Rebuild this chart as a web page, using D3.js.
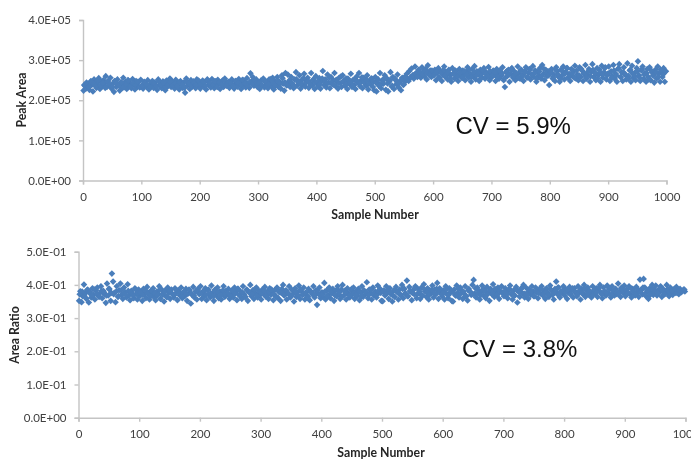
<!DOCTYPE html>
<html>
<head>
<meta charset="utf-8">
<script src="https://cdn.jsdelivr.net/npm/d3@7"></script>
<style>
html, body { margin: 0; padding: 0; background: #fff; overflow: hidden; }
svg { display: block; filter: blur(0.35px); }
.axis path, .axis line { stroke: #c4c4c4; stroke-width: 1.4px; fill: none; }
.axis text { font-family: Lato, sans-serif; font-size: 11.5px; fill: #404040; }
.title { font-family: Lato, sans-serif; font-size: 12.3px; font-weight: bold; fill: #262626; }
.note { font-family: "Liberation Sans", sans-serif; font-size: 24px; fill: #111; }
</style>
</head>
<body>
<svg width="691" height="459"></svg>
<script>
var xTicks = [0, 100, 200, 300, 400, 500, 600, 700, 800, 900, 1000];

var peakTicks = [0, 100, 200, 300, 400];
var peakTickLabels = ["0.0E+00", "1.0E+05", "2.0E+05", "3.0E+05", "4.0E+05"];
var ratioTicks = [0, 100, 200, 300, 400, 500];
var ratioTickLabels = ["0.0E+00", "1.0E-01", "2.0E-01", "3.0E-01", "4.0E-01", "5.0E-01"];

// every second sample, each row below is 50 samples
var samples = d3.range(1, 1001, 2);
// extra readings inside the thick part of the band, each row is 100 samples
var coreSamples = d3.range(2, 1002, 4);

// peak area, in thousands
var peakArea = [
  224,236,229,241,233,226,247,238,222,252,244,231,239,255,228,246,235,250,242,260,233,248,237,256,229,
  241,221,247,233,252,238,224,244,231,256,240,246,228,250,236,243,230,253,239,227,248,234,245,232,251,
  237,229,246,242,233,250,227,240,235,248,231,244,238,226,252,236,243,230,247,239,225,249,234,241,254,
  233,246,240,229,251,236,243,227,248,238,231,245,219,254,237,242,228,250,234,247,240,230,252,236,244,
  229,241,249,235,246,227,252,238,243,232,253,240,230,247,236,251,244,228,239,249,233,254,242,237,246,
  231,245,252,238,229,248,241,234,253,243,228,250,236,246,232,255,240,231,267,247,258,236,244,252,233,
  241,228,249,237,254,232,245,240,230,252,243,235,256,227,248,238,258,233,246,229,262,241,224,268,237,
  264,246,233,258,240,230,252,270,236,244,262,229,250,238,266,234,248,256,231,243,268,237,252,228,260,
  242,234,255,229,248,273,238,252,232,264,244,230,258,240,250,268,235,246,229,256,242,233,262,248,236,
  254,228,246,240,266,233,251,238,228,259,244,268,235,250,230,256,242,236,262,227,248,240,254,233,225,
  258,222,244,236,268,230,250,241,262,226,254,222,246,270,234,258,228,252,240,264,232,248,225,256,238,
  258,248,266,252,272,256,279,262,254,284,268,258,276,264,256,282,270,260,278,252,287,266,274,258,270,
  262,276,250,268,280,256,272,248,264,284,258,270,252,276,262,246,280,266,254,272,260,248,278,268,256,
  274,262,250,270,282,256,266,246,278,260,285,252,272,264,248,276,258,268,280,254,270,262,283,250,266,
  258,274,264,248,278,268,254,272,262,282,250,233,270,260,276,246,266,280,256,272,250,262,284,268,254,
  276,262,248,272,282,256,268,278,252,264,285,258,274,246,270,262,280,254,288,266,250,276,260,272,238,
  268,278,254,264,248,282,272,258,246,276,262,284,252,270,280,256,266,248,278,260,272,286,254,264,250,
  282,258,274,248,268,288,254,264,278,246,272,290,258,268,250,280,262,276,246,286,256,270,282,252,266,
  284,248,272,260,288,254,266,246,278,290,258,270,248,282,264,252,292,260,274,246,286,256,268,250,280,
  297,262,248,274,284,254,268,246,278,258,282,250,270,262,244,276,254,284,266,246,272,258,280,246,272
];

var peakAreaCore = [
  238,244,233,247,241,235,250,237,243,231,246,239,234,248,242,236,245,232,240,249,235,243,238,246,233,
  236,243,239,233,246,241,235,248,238,244,232,240,247,237,242,234,245,239,231,246,241,236,243,238,249,
  240,246,236,249,243,238,247,233,244,240,250,236,245,241,234,248,243,238,251,242,236,246,240,248,244,
  244,238,250,246,240,253,243,236,248,241,255,245,238,250,243,236,252,246,240,255,243,248,238,250,244,
  246,240,254,248,242,257,245,238,251,243,259,247,240,254,245,238,252,248,242,257,245,250,241,254,247,
  244,252,238,248,256,242,250,236,254,246,243,250,240,256,248,258,262,266,260,270,264,272,268,262,274,
  264,272,258,268,276,262,270,254,266,274,260,268,256,272,264,276,258,270,262,268,254,274,266,260,272,
  262,270,258,274,266,254,272,264,278,260,268,256,274,262,270,258,276,264,268,254,272,260,278,266,262,
  270,258,276,264,254,272,266,280,260,268,256,274,262,278,266,258,272,260,276,268,254,270,264,280,262,
  268,256,274,262,280,258,270,264,254,276,266,260,272,256,278,264,268,252,274,262,270,258,276,264,272
];

// area ratio, in thousandths
var areaRatio = [
  352,381,348,366,401,374,358,386,347,379,362,390,370,356,384,392,366,375,396,360,382,372,346,404,368,
  388,352,434,410,376,348,396,364,384,404,370,358,392,378,362,402,368,354,382,374,360,390,372,356,386,
  366,378,352,388,372,360,394,376,356,382,368,390,362,354,380,374,396,358,386,370,350,384,364,392,376,
  358,386,372,362,390,376,354,382,368,392,360,378,366,388,352,374,384,344,370,394,362,380,356,388,372,
  396,358,378,366,390,354,384,370,362,398,376,352,386,368,392,360,380,356,374,396,364,382,372,388,358,
  370,384,362,392,376,354,388,368,380,358,396,372,364,386,352,378,400,366,384,358,374,392,362,382,370,
  356,386,372,394,364,380,358,390,370,376,354,384,366,392,360,378,352,388,400,368,382,356,374,396,362,
  386,372,350,390,364,378,398,358,382,370,392,356,376,366,388,354,380,372,396,362,384,340,374,392,360,
  378,364,406,356,384,370,392,360,376,388,352,382,366,396,372,358,386,400,368,380,356,390,374,362,384,
  370,392,358,380,366,388,354,376,396,364,382,372,408,360,386,374,356,392,368,380,362,398,376,388,352,
  351,384,368,396,376,358,390,372,350,382,364,394,378,356,386,370,400,360,388,374,413,366,394,380,354,
  384,372,396,360,388,376,358,392,368,402,380,364,390,356,384,374,398,362,386,372,406,358,390,378,366,
  384,356,396,372,360,390,378,352,350,386,368,398,376,362,392,384,358,374,396,366,353,388,380,370,400,
  415,374,362,392,384,356,378,398,368,386,360,394,376,352,388,372,402,364,382,370,392,358,380,396,374,
  366,390,378,360,386,398,372,356,384,368,394,347,380,364,388,374,400,362,392,376,358,384,370,396,380,
  366,392,378,360,386,374,396,368,382,358,390,376,364,398,384,370,356,388,410,372,392,362,380,374,396,
  368,386,358,378,394,372,384,362,390,376,366,396,380,356,388,372,400,364,384,392,370,378,362,396,382,
  372,390,364,384,400,376,360,392,380,368,398,374,386,362,396,378,368,388,372,404,380,364,392,376,398,
  366,386,376,396,372,362,388,380,368,394,378,364,416,384,372,418,392,366,382,358,390,376,400,370,386,
  398,368,384,376,396,364,388,372,380,400,374,366,392,382,370,386,376,394,380,372,388,378,382,386,380
];

var areaRatioCore = [
  372,380,366,384,376,370,386,374,364,382,378,368,388,376,372,380,366,384,374,370,382,378,368,386,376,
  378,370,384,374,366,380,376,368,386,372,378,364,382,374,370,384,376,366,380,372,386,374,368,382,378,
  376,382,370,386,374,366,380,378,368,384,372,376,366,382,374,388,370,378,364,384,376,372,386,368,380,
  374,382,368,378,386,372,364,380,376,370,384,374,366,382,378,368,386,372,376,364,380,374,370,384,368,
  372,380,366,384,376,370,386,378,364,382,374,368,388,376,372,380,366,384,378,370,386,374,368,382,376,
  380,372,386,376,368,384,378,370,388,374,366,382,376,390,372,380,368,386,378,370,384,374,388,380,372,
  378,386,370,382,376,368,388,374,380,366,384,378,372,390,376,368,386,380,372,384,374,388,370,382,378,
  380,372,388,376,368,384,378,390,374,370,386,380,366,382,376,388,372,378,370,386,374,382,392,376,384,
  378,386,372,390,380,370,384,376,388,374,382,368,386,378,392,372,380,376,388,370,384,378,374,390,382,
  384,376,390,380,372,386,378,392,374,382,370,388,380,376,390,384,372,386,378,382,388,376,384,380,386
];

var blue = "#4a7ebb";

var svg = d3.select("svg");

function drawPoints(g, values, xs, x, y) {
  var diamond = d3.symbol().type(d3.symbolDiamond2).size(28);

  g.selectAll("path.p" + xs.length)
    .data(values)
    .enter()
    .append("path")
    .attr("class", "p" + xs.length)
    .attr("d", diamond)
    .attr("fill", blue)
    .attr("transform", function(d, i) {
      return "translate(" + x(xs[i]) + "," + y(d) + ")";
    });
}

function drawPanel(opts) {
  var x = d3.scaleLinear().domain([0, 1000]).range([opts.left, opts.right]);
  var y = d3.scaleLinear().domain([0, opts.yMax]).range([opts.bottom, opts.top]);

  var g = svg.append("g");

  g.append("g")
    .attr("class", "axis")
    .attr("transform", "translate(0," + opts.bottom + ")")
    .call(d3.axisBottom(x).tickValues(xTicks).tickSize(4).tickSizeOuter(4).tickFormat(d3.format("d")))
    .selectAll("text").attr("dy", "1.2em");

  g.append("g")
    .attr("class", "axis")
    .attr("transform", "translate(" + opts.left + ",0)")
    .call(d3.axisLeft(y).tickValues(opts.yTicks).tickSize(4).tickSizeOuter(4)
      .tickFormat(function(d, i) { return opts.yLabels[i]; }))
    .selectAll("text").attr("x", -12);

  drawPoints(g, opts.values, samples, x, y);
  drawPoints(g, opts.core, coreSamples, x, y);

  g.append("text")
    .attr("class", "title")
    .attr("text-anchor", "middle")
    .attr("x", opts.xTitleX)
    .attr("y", opts.xTitleY)
    .text("Sample Number");

  g.append("text")
    .attr("class", "title")
    .attr("text-anchor", "middle")
    .attr("transform", "translate(" + opts.yTitleX + "," + opts.yTitleY + ") rotate(-90)")
    .text(opts.yTitle);

  g.append("text")
    .attr("class", "note")
    .attr("x", opts.noteX)
    .attr("y", opts.noteY)
    .text(opts.note);
}

drawPanel({
  left: 83, right: 666.5, top: 20, bottom: 180.5,
  yMax: 400, yTicks: peakTicks, yLabels: peakTickLabels, values: peakArea, core: peakAreaCore,
  xTitleX: 375, xTitleY: 219, yTitle: "Peak Area", yTitleX: 26, yTitleY: 100,
  note: "CV = 5.9%", noteX: 455.5, noteY: 134
});

drawPanel({
  left: 78.5, right: 685.5, top: 251.7, bottom: 417.7,
  yMax: 500, yTicks: ratioTicks, yLabels: ratioTickLabels, values: areaRatio, core: areaRatioCore,
  xTitleX: 381, xTitleY: 457, yTitle: "Area Ratio", yTitleX: 19, yTitleY: 335,
  note: "CV = 3.8%", noteX: 462, noteY: 357
});
</script>
</body>
</html>
